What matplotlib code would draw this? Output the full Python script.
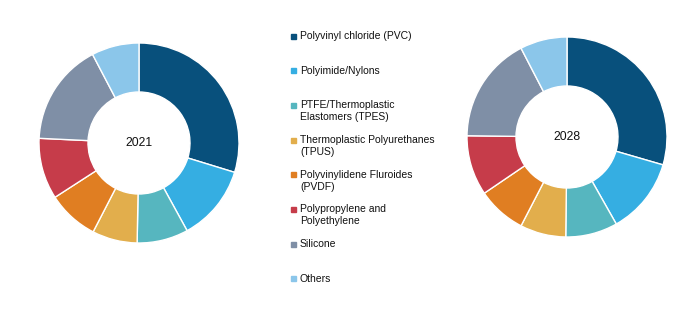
import matplotlib.pyplot as plt

plt.rcParams['font.family'] = ['Liberation Sans', 'DejaVu Sans']

labels = ["Polyvinyl chloride (PVC)", "Polyimide/Nylons",
          "PTFE/Thermoplastic\nElastomers (TPES)", "Thermoplastic Polyurethanes\n(TPUS)",
          "Polyvinylidene Fluroides\n(PVDF)", "Polypropylene and\nPolyethylene",
          "Silicone", "Others"]
colors = ["#08507c", "#35aee2", "#56b6bf", "#e2ae4c",
          "#e07e22", "#c63c4a", "#7f8fa6", "#8bc6ea"]

share_2021 = [29.8, 12.3, 8.3, 7.3, 8.3, 9.9, 16.6, 7.7]
share_2028 = [29.5, 12.3, 8.4, 7.4, 7.9, 9.7, 17.2, 7.6]

W, H = 700, 311
fig = plt.figure(figsize=(7, 3.11), dpi=100)


def donut(cx, cy, r, values, year):
    ax = fig.add_axes([(cx - r) / W, (H - cy - r) / H, 2 * r / W, 2 * r / H])
    ax.pie(values, colors=colors, startangle=90, counterclock=False, radius=1,
           wedgeprops=dict(width=0.49, edgecolor="white", linewidth=1))
    ax.set_xlim(-1, 1)
    ax.set_ylim(-1, 1)
    ax.text(0, 0, year, ha="center", va="center", fontsize=8.7, color="#111111")
    ax.axis("off")


donut(139, 143, 100, share_2021, "2021")
donut(567, 137, 100, share_2028, "2028")

# legend
y = 36
for lab, c in zip(labels, colors):
    fig.patches.append(plt.Rectangle((291 / W, (H - y - 2.5) / H), 5 / W, 5 / H,
                                     transform=fig.transFigure, color=c))
    fig.text(300 / W, (H - y + 5) / H, lab, ha="left", va="top",
             fontsize=7.5, color="#111111", linespacing=1.25)
    y += 34.7

fig.savefig("out.png", dpi=100)
